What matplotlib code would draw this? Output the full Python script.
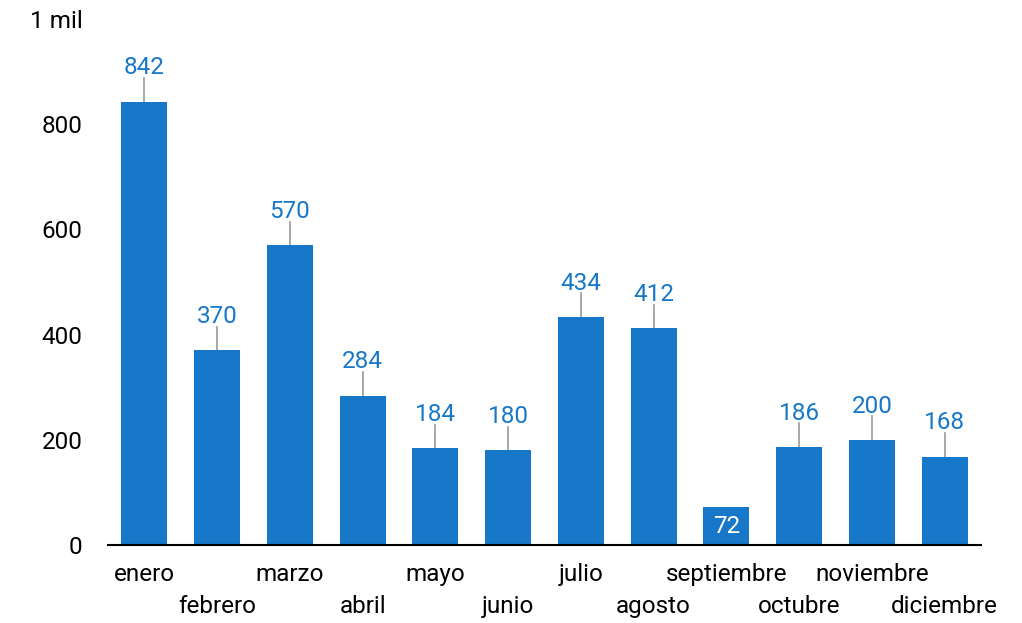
import matplotlib
matplotlib.use("Agg")
import matplotlib.pyplot as plt
from matplotlib.transforms import blended_transform_factory

plt.rcParams['font.family'] = ['Roboto', 'DejaVu Sans']

months = ["enero", "febrero", "marzo", "abril", "mayo", "junio", "julio",
          "agosto", "septiembre", "octubre", "noviembre", "diciembre"]
values = [842, 370, 570, 284, 184, 180, 434, 412, 72, 186, 200, 168]
errors = [46, 45, 45, 45, 45, 45, 45, 45, 0, 45, 45, 45]
yticks = [0, 200, 400, 600, 800, 1000]
ytick_labels = ["0", "200", "400", "600", "800", "1 mil"]

bar_color = "#1777C8"
FS = 17.5
fig = plt.figure(figsize=(10.22, 6.23), dpi=100)
ax = fig.add_axes([108/1022, 78/623, 873/1022, 526/623])

x = list(range(len(months)))
ax.bar(x, values, width=0.63, color=bar_color, zorder=2)
for xi, v, e in zip(x, values, errors):
    if e > 0:
        ax.plot([xi, xi], [v, v + e], color="#9a9a9a", lw=1.2, zorder=1)
        ax.annotate(str(v), (xi, v + e), xytext=(0, 2.5), textcoords="offset points",
                    ha="center", va="baseline", color=bar_color, fontsize=FS)
    else:
        ax.text(xi, v / 2, str(v), ha="center", va="center", color="white", fontsize=FS)

ax.set_xlim(-0.5, len(months) - 0.5)
ax.set_ylim(0, 1000)
ax.set_yticks(yticks)
ax.set_yticklabels(ytick_labels, fontsize=FS)
ax.tick_params(axis='y', length=0, pad=18.5)
ax.set_xticks([])
for s in ["top", "right", "left"]:
    ax.spines[s].set_visible(False)
ax.spines["bottom"].set_linewidth(1.5)
ax.spines["bottom"].set_color("black")

trans = blended_transform_factory(ax.transData, ax.transAxes)
for i, m in enumerate(months):
    yoff = -21.5 if i % 2 == 0 else -44.5
    ax.annotate(m, (i, 0), xycoords=trans, xytext=(0, yoff), textcoords="offset points",
                ha="center", va="center", fontsize=FS, color="black")

fig.savefig("out.png", dpi=100)
